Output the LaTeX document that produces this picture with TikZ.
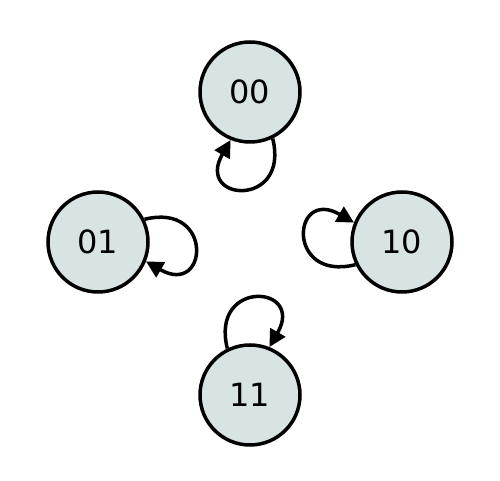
\documentclass[tikz,border=0pt]{standalone}
\usepackage{fontspec}
\setmainfont{DejaVu Sans}
\usetikzlibrary{arrows.meta}
\definecolor{statefill}{RGB}{216,227,227}
\tikzset{
  statenode/.style={circle, draw=black, fill=statefill, line width=3.5pt,
    minimum size=100pt, inner sep=0pt, font=\fontsize{32}{32}\selectfont},
  loopedge/.style={line width=3.5pt, -{Triangle[length=17pt,width=17pt]}}
}
\begin{document}
\begin{tikzpicture}[x=1pt,y=1pt]
\useasboundingbox (0,0) rectangle (500,481);
\node[statenode] (n00) at (250,389) {00};
\node[statenode] (n01) at (98,239) {01};
\node[statenode] (n10) at (402,239) {10};
\node[statenode] (n11) at (250,86) {11};
\draw[loopedge] (n00.-64) .. controls +(-76:72) and +(-120:72) .. (n00.-112);
\draw[loopedge] (n01.26) .. controls +(14:72) and +(-30:72) .. (n01.-22);
\draw[loopedge] (n10.206) .. controls +(194:72) and +(150:72) .. (n10.158);
\draw[loopedge] (n11.116) .. controls +(104:72) and +(60:72) .. (n11.68);
\end{tikzpicture}
\end{document}
